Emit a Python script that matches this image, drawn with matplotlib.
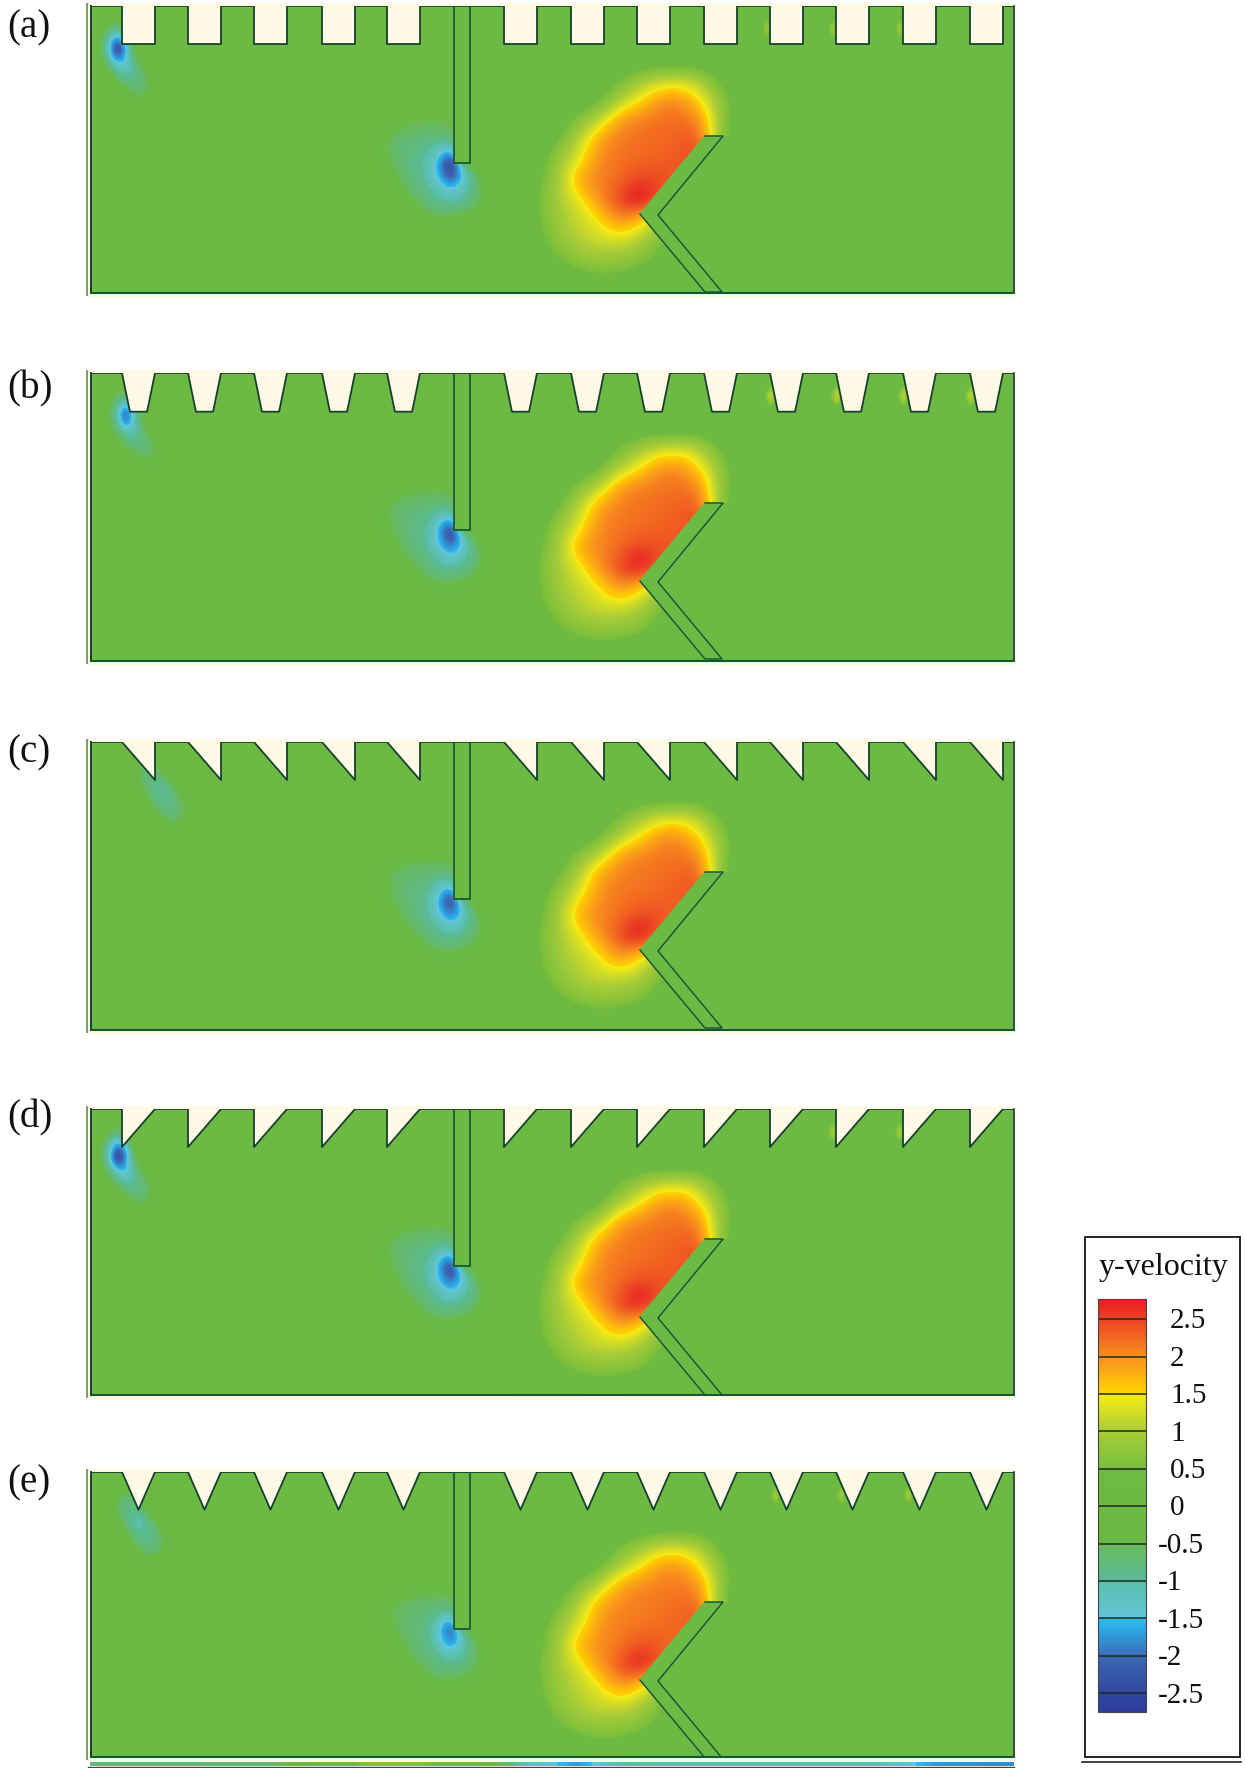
import numpy as np
from matplotlib import pyplot as plt
from matplotlib.cm import ScalarMappable
from matplotlib.colors import LinearSegmentedColormap, Normalize
from matplotlib.patches import Polygon, Rectangle

plt.rcParams['font.family'] = ['Liberation Serif', 'DejaVu Serif']

W, H = 1245, 1768
GREEN_LINE = '#12513a'
CREAM = '#fefae6'

# paineis: topo e base em pixels da figura
panel_labels = ['(a)', '(b)', '(c)', '(d)', '(e)']
panel_top = [6, 373, 742, 1109, 1472]
panel_bottom = [293, 661, 1030, 1395, 1757]
label_y = [28, 389, 753, 1118, 1483]
panel_left, panel_right = 91, 1014

# dentes no topo (x esquerdo, largura, profundidade)
tooth_left = [31, 97, 163, 231, 296, 413, 480, 546, 613, 679, 745, 812, 879]
tooth_width = 33
tooth_depth = [38.3, 38.7, 38, 38, 37.7]
tooth_shape = [
    [(0, 0), (0, 1), (1, 1), (1, 0)],
    [(0, 0), (0.24, 1), (0.76, 1), (1, 0)],
    [(0, 0), (1, 1), (1, 0)],
    [(0, 0), (0, 1), (1, 0)],
    [(0, 0), (0.5, 1), (1, 0)],
]

# defletores
baffle_x = [363, 363, 379, 379]
baffle_y = [0, 157, 157, 0]
chevron_x = [614, 632, 567, 631, 614, 549]
chevron_y = [130, 130, 209, 286, 286, 208]

# campo de velocidade: mancha vermelha (passo 20 px)
hot_x = [419, 679]
hot_y = [44, 304]
hot_values = [
    [0, 0, 0, 0, 0, 0, .05, .1, .1, .1, 0, 0, 0],
    [0, 0, 0, 0, .1, .5, .9, 1.15, 1.2, 1.05, .4, .05, 0],
    [0, 0, 0, .1, .4, 1.0, 1.45, 2.0, 2.05, 1.5, .8, .15, 0],
    [0, 0, .2, .7, 1.15, 1.95, 2.15, 2.2, 2.25, 2.05, .9, .1, 0],
    [0, .1, .5, 1.15, 1.95, 2.15, 2.2, 2.25, 2.3, 2.45, .6, 0, 0],
    [.1, .3, .9, 1.4, 2.05, 2.2, 2.25, 2.3, 2.4, 2.45, 2, 1, 0],
    [.1, .4, 1.0, 1.95, 2.1, 2.25, 2.5, 2.45, 2.35, 2, 1, 0, 0],
    [.2, .5, 1.05, 1.35, 2.05, 2.5, 3.1, 2.4, 2, 1, 0, 0, 0],
    [.15, .45, .95, 1.2, 1.45, 2.1, 1.6, 1.0, .5, 0, 0, 0, 0],
    [.1, .4, .8, 1.1, 1.25, 1.25, 1.1, .6, 0, 0, 0, 0, 0],
    [.05, .15, .5, .75, .85, .8, .65, .3, 0, 0, 0, 0, 0],
    [0, 0, .1, .25, .35, .3, .2, .1, 0, 0, 0, 0, 0],
    [0, 0, 0, .05, .1, .05, 0, 0, 0, 0, 0, 0, 0],
]
hot_gain = [1.0, 0.99, 0.98, 0.99, 0.96]

# mancha azul sob o defletor vertical (passo 12 px)
cold_x = [270, 402]
cold_y = [115, 235]
cold_values = [
    [0, 0, -.3, -.45, -.5, -.5, -.5, -.5, 0, 0, 0],
    [0, -.4, -.6, -.7, -.75, -.8, -.85, -.9, 0, 0, 0],
    [0, -.35, -.6, -.75, -.85, -.95, -1.25, -1.6, 0, 0, 0],
    [0, -.2, -.5, -.75, -.9, -1.05, -1.6, -3.0, -.6, -.1, 0],
    [0, 0, -.35, -.65, -.85, -1.05, -1.55, -2.5, -1.5, -.7, 0],
    [0, 0, -.2, -.5, -.75, -.95, -1.2, -1.6, -1.2, -.8, -.3],
    [0, 0, 0, -.3, -.55, -.8, -1.0, -1.1, -1.0, -.75, -.3],
    [0, 0, 0, -.05, -.3, -.55, -.7, -.7, -.6, -.4, -.1],
    [0, 0, 0, 0, -.05, -.2, -.3, -.3, -.2, -.1, 0],
    [0, 0, 0, 0, 0, 0, 0, 0, 0, 0, 0],
]
cold_gain = [1.0, 0.95, 0.92, 0.95, 0.82]

# mancha azul no primeiro dente (passo 8 px, relativo ao pico)
tip_dx = [-28, 44]
tip_dy = [-28, 52]
tip_strong = [
    [0, 0, -.4, -.6, 0, 0, 0, 0, 0],
    [0, -.3, -.9, -1.2, -.7, 0, 0, 0, 0],
    [0, -.6, -1.1, -2.0, -1.3, -.4, 0, 0, 0],
    [0, -.6, -1.2, -2.8, -1.6, -.6, 0, 0, 0],
    [0, -.5, -1.1, -2.2, -1.6, -.7, -.2, 0, 0],
    [0, -.3, -.8, -1.3, -1.5, -.9, -.5, 0, 0],
    [0, 0, -.5, -.9, -1.1, -1.0, -.7, -.3, 0],
    [0, 0, -.1, -.55, -.85, -.9, -.8, -.5, 0],
    [0, 0, 0, -.1, -.5, -.7, -.7, -.5, 0],
    [0, 0, 0, 0, -.1, -.4, -.5, -.3, 0],
]
# versao fraca e larga dos paineis (c) e (e)
tip_weak_dy = [-36, 44]
tip_weak = [
    [0, -.4, -.4, 0, 0, 0, 0, 0, 0],
    [-.2, -.6, -.75, -.5, 0, 0, 0, 0, 0],
    [-.2, -.65, -.85, -.85, -.5, 0, 0, 0, 0],
    [-.1, -.6, -.85, -1.0, -.85, -.4, 0, 0, 0],
    [0, -.4, -.8, -1.15, -1.05, -.75, -.3, 0, 0],
    [0, -.1, -.6, -.95, -1.05, -.9, -.6, -.1, 0],
    [0, 0, -.3, -.75, -.95, -.9, -.7, -.3, 0],
    [0, 0, 0, -.5, -.75, -.8, -.7, -.3, 0],
    [0, 0, 0, -.1, -.5, -.6, -.5, -.1, 0],
    [0, 0, 0, 0, -.1, -.3, -.1, 0, 0],
]
tip_peak_x = [26, 34, 66, 27, 44]
tip_peak_y = [42, 42, 48, 46, 50]
tip_gain = [1.0, 0.85, 0.92, 1.05, 1.0]
tip_is_weak = [False, False, True, False, True]

# manchas amarelas junto aos dentes da direita (passo 4 x 6 px)
spot_values = [
    [0, .3, 0],
    [.3, .9, .3],
    [.6, 1.35, .4],
    [.4, 1.15, .2],
    [0, .4, 0],
]
spot_teeth = [[9, 10, 11], [9, 10, 11, 12], [], [10, 11], [9, 10, 11]]
spot_gain = [0.8, 1.1, 0, 0.9, 0.9]
spot_dx = [1, 5, 19, 1, 10]

# faixa colorida abaixo do painel (e)
strip_values = [-.8, -.8, -.7, -.7, 0, .7, .6, .1, -1.2, -1.7, -1, -1.1, -1.1, -1.1, -1.1, -1.2, -1.7, -1.8]

# escala de cores
vmin, vmax = -2.75, 2.77
color_stops = [
    (-2.75, '#2d3c9b'), (-2.5, '#2f469f'), (-2.5, '#32469f'), (-2.0, '#3c69b4'),
    (-2.0, '#3a6fb8'), (-1.5, '#28bef5'), (-1.5, '#62c6dc'), (-1.0, '#5abfa8'),
    (-1.0, '#5abb98'), (-0.5, '#69b95a'), (-0.5, '#69b946'), (0.5, '#6fbb40'),
    (0.5, '#78be3c'), (1.0, '#a8cd37'), (1.0, '#aacd37'), (1.5, '#faeb14'),
    (1.5, '#ffd700'), (2.0, '#f98f1e'), (2.5, '#ec4223'), (2.77, '#ea1c24'),
]
stops = [((v - vmin) / (vmax - vmin), c) for v, c in color_stops]
cmap = LinearSegmentedColormap.from_list('velocity', stops, N=2048)
norm = Normalize(vmin, vmax)
cbar_ticks = [2.5, 2, 1.5, 1, 0.5, 0, -0.5, -1, -1.5, -2, -2.5]
cbar_labels = ['2.5', '2', '1.5', '1', '0.5', '0', '-0.5', '-1', '-1.5', '-2', '-2.5']


def field(ax, values, xr, yr, gain=1.0):
    return ax.imshow(np.array(values) * gain, extent=(xr[0], xr[1], yr[1], yr[0]), cmap=cmap, norm=norm,
                     interpolation='bicubic', aspect='auto', zorder=1)


fig = plt.figure(figsize=(W / 100, H / 100), dpi=100)

for i, label in enumerate(panel_labels):
    top, bottom = panel_top[i], panel_bottom[i]
    h = bottom - top
    ax = fig.add_axes([panel_left / W, 1 - bottom / H, (panel_right - panel_left) / W, h / H])
    ax.axis('off')
    ax.add_patch(Rectangle((0, 0), 923, h, fc=cmap(norm(0.0)), ec='none', zorder=0))

    tip_rows = tip_weak if tip_is_weak[i] else tip_strong
    tip_rows_dy = tip_weak_dy if tip_is_weak[i] else tip_dy
    field(ax, tip_rows, [tip_peak_x[i] + tip_dx[0], tip_peak_x[i] + tip_dx[1]],
          [tip_peak_y[i] + tip_rows_dy[0], tip_peak_y[i] + tip_rows_dy[1]], tip_gain[i])
    field(ax, cold_values, cold_x, cold_y, cold_gain[i])
    im = field(ax, hot_values, hot_x, hot_y, hot_gain[i])
    im.set_clip_path(Polygon([(hot_x[0], hot_y[0]), (hot_x[1], hot_y[0]), (hot_x[1], chevron_y[0]),
                              (chevron_x[0], chevron_y[0]), (chevron_x[5], chevron_y[5]),
                              (chevron_x[4], h), (hot_x[0], h)], transform=ax.transData))
    for t in spot_teeth[i]:
        xc = tooth_left[t] + spot_dx[i] - 4
        field(ax, spot_values, [xc - 6, xc + 6], [7, 37], spot_gain[i])

    # dentes e contorno superior
    outline_x, outline_y = [0], [0]
    for xl in tooth_left:
        px = [xl + f * tooth_width for f, _ in tooth_shape[i]]
        py = [g * tooth_depth[i] for _, g in tooth_shape[i]]
        ax.add_patch(Polygon(list(zip(px, py)), fc=CREAM, ec='none', zorder=2))
        outline_x += px
        outline_y += py
    outline_x.append(panel_right - panel_left)
    outline_y.append(0)
    ax.plot(outline_x, outline_y, color='#17402f', lw=1.3, zorder=4)

    ax.fill(baffle_x, baffle_y, color=cmap(norm(0.0)), zorder=2)
    ax.plot(baffle_x, baffle_y, color=GREEN_LINE, lw=1.2, zorder=4)
    ax.fill(chevron_x, chevron_y, color=cmap(norm(0.0)), zorder=2)
    ax.plot(chevron_x, chevron_y, color=GREEN_LINE, lw=1.0, zorder=4)

    # paredes
    ax.plot([0, 0], [0, h], color='#17402f', lw=1.4, zorder=5, clip_on=False)
    ax.plot([923, 923], [0, h], color='#17402f', lw=1.2, zorder=5, clip_on=False)
    ax.plot([0, 923], [h, h], color='#0f5a34', lw=1.5, zorder=5, clip_on=False)
    ax.plot([-4, -4], [-2, h + 2], color='#7d9a6a', lw=1.4, zorder=5, clip_on=False)
    ax.add_patch(Rectangle((-3.5, h + 1), 926, 3.5, fc=CREAM, ec='none', clip_on=False, zorder=3))
    ax.add_patch(Rectangle((-3.5, -3), 926, 3, fc=CREAM, ec='none', clip_on=False, zorder=3))
    ax.add_patch(Rectangle((-3.5, -3), 3.5, h + 4, fc=CREAM, ec='none', clip_on=False, zorder=3))

    ax.set_xlim(0, 923)
    ax.set_ylim(h, 0)

    fig.text(7 / W, 1 - label_y[i] / H, label, fontsize=28, ha='left', va='center', color='#111111')

# faixa colorida sob o painel (e)
ax_strip = fig.add_axes([90 / W, 1 - 1766 / H, 924 / W, 4 / H])
ax_strip.imshow([strip_values], cmap=cmap, norm=norm, aspect='auto', interpolation='bilinear')
ax_strip.axis('off')
fig.add_artist(plt.Line2D([88 / W, 1014 / W], [1 - 1767 / H] * 2, color='#444444', lw=1))

# legenda
fig.add_artist(Rectangle((1085 / W, 1 - 1757 / H), 155 / W, 520 / H, fc='none', ec='#111111', lw=1.3,
                         transform=fig.transFigure))
fig.add_artist(plt.Line2D([1082 / W, 1241 / W], [1 - 1762 / H] * 2, color='#222222', lw=1.2))
fig.text(1163 / W, 1 - 1267 / H, 'y-velocity', fontsize=23, ha='center', va='center', color='#111111')

cax = fig.add_axes([1098 / W, 1 - 1712 / H, 48 / W, 413 / H])
cb = fig.colorbar(ScalarMappable(norm=norm, cmap=cmap), cax=cax)
cb.outline.set_edgecolor('#444444')
cb.outline.set_linewidth(0.8)
cb.set_ticks([])
for v, text in zip(cbar_ticks, cbar_labels):
    cax.axhline(v, color='#1c2a1c', lw=1.1)
    x = 1.5 if v >= 0 else 1.25
    cax.text(x, v - 0.03, text, transform=cax.get_yaxis_transform(), fontsize=21,
             ha='left', va='center', color='#111111')

fig.savefig('out.png', dpi=100, facecolor='white')
